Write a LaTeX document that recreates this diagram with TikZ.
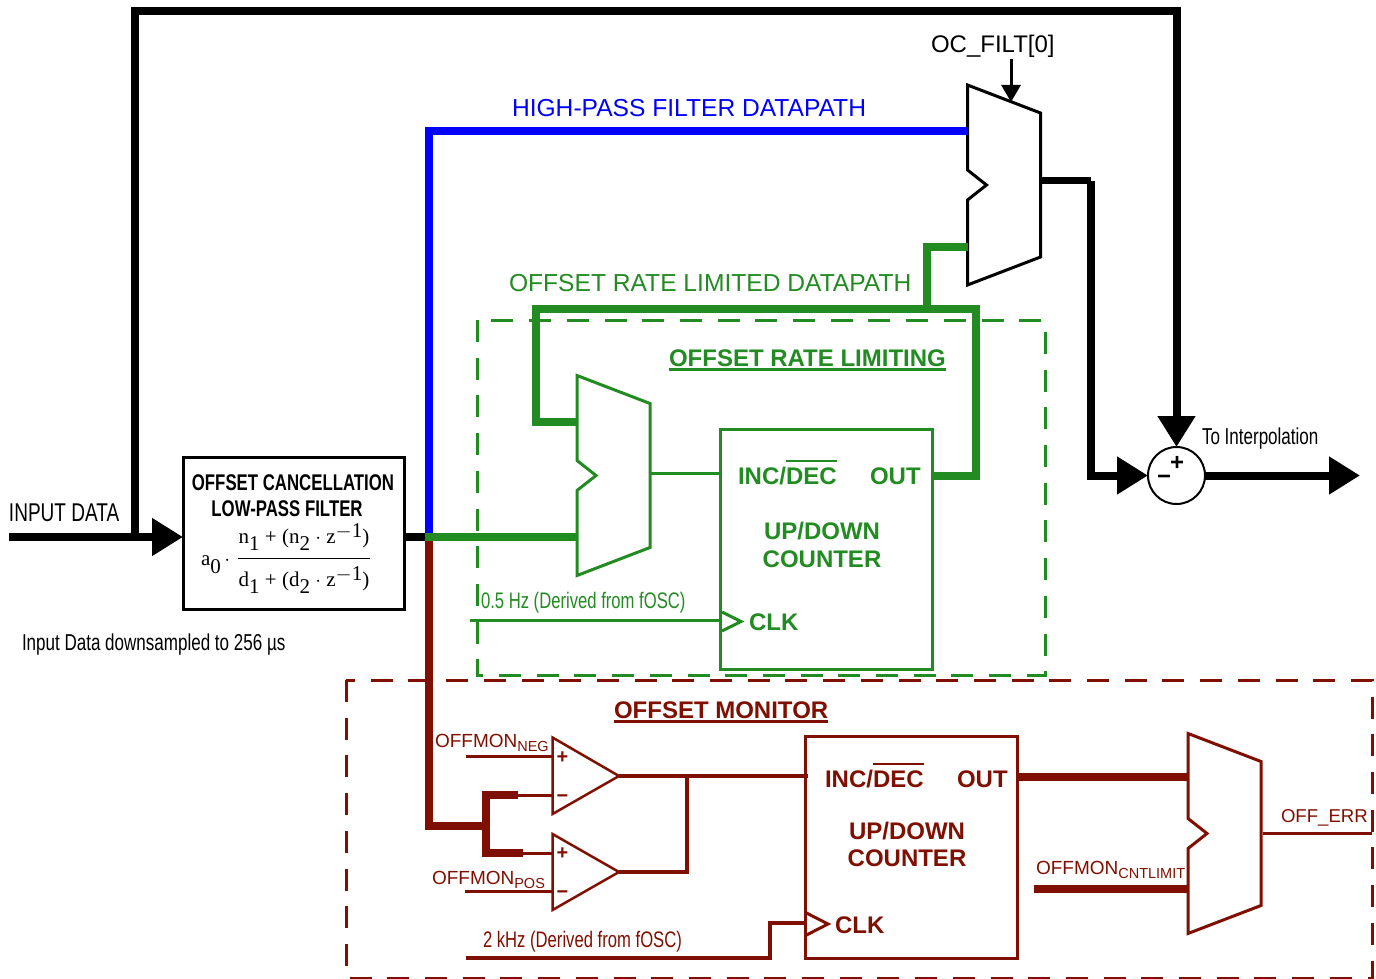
\documentclass[tikz,border=0pt]{standalone}
\usepackage{fontspec}
\setmainfont{Liberation Sans}
\newfontfamily\narrowfont[FakeStretch=0.74]{Liberation Sans}
\newfontfamily\timesfont{Liberation Serif}
\usetikzlibrary{arrows.meta}

\definecolor{monred}{HTML}{7F0F00}
\definecolor{rategreen}{HTML}{228B22}

\newcommand\fsize[1]{\fontsize{#1}{#1}\selectfont}
\newcommand\barred[1]{\vbox{\hrule height 2.5pt\kern 5pt\hbox{#1}}}
\newcommand\ruled[1]{\vtop{\hbox{#1}\kern 2pt\hrule height 3pt}}
\newcommand\lowered[1]{\raisebox{-7pt}[0pt][0pt]{#1}}
\newcommand\raised[1]{\raisebox{6pt}[0pt][0pt]{#1}}
\newcommand\drawmux[4][]{%
  \draw [#1] (#3,#4) -- ++(73,28) -- ++(0,144) -- ++(-73,28) -- ++(0,-85)
    -- ++(19,-15) -- ++(-19,-15) -- cycle;
  \coordinate (#2-tl) at (#3,#4);
  \coordinate (#2-tr) at ({#3+73},#4);
}

\tikzset{
  txt/.style={anchor=base west,inner sep=0pt,outer sep=0pt},
  ctr/.style={anchor=base,inner sep=0pt,outer sep=0pt},
  bigarrow/.style={-{Triangle[length=31pt,width=36pt]}},
  thickbus/.style={line width=8pt},
  thin line/.style={line width=3pt},
  ratedash/.style={rategreen,line width=3pt,dash pattern=on 22pt off 15.7pt},
  mondash/.style={monred,line width=3pt,dash pattern=on 22pt off 15.7pt},
  labfont/.style={font=\fsize{24.6}},
  boldfont/.style={font=\fsize{24}\bfseries},
  narrow/.style={font=\narrowfont\fsize{22.5}},
  blockbox/.style={draw,line width=3pt,inner sep=0pt,outer sep=0pt},
}

\begin{document}
\begin{tikzpicture}[x=1pt,y=-1pt]
  \useasboundingbox (0,0) rectangle (1376,979);

  % dashed regions
  \draw [ratedash] (477,320) rectangle (1045,675);
  \draw [mondash] (346,680) rectangle (1372,978);

  % blocks
  \node (filter) [blockbox,minimum width=221pt,minimum height=152pt] at (293.5,533) {};
  \node (ratectr) [blockbox,rategreen,minimum width=212pt,minimum height=240pt] at (826,549.5) {};
  \node (monctr) [blockbox,monred,minimum width=212pt,minimum height=222pt] at (911.5,847) {};
  \node (sum) [circle,draw,line width=2pt,inner sep=0pt,outer sep=0pt,minimum size=57pt] at (1176.5,475.5) {};
  \drawmux[line width=3pt]{topmux}{967.5}{85}
  \drawmux[rategreen,line width=3pt]{ratemux}{577}{375.5}
  \drawmux[monred,line width=3pt]{monmux}{1188}{733.5}

  % black datapath
  \coordinate (inputstart) at (9,537);
  \coordinate (looptap) at (135,537);
  \coordinate (looptop) at (1176.5,11);
  \coordinate (splitpt) at (429,537);
  \coordinate (greenstart) at (425,537);
  \coordinate (muxcorner) at (1091,180.5);
  \coordinate (outend) at (1360,475.5);
  \coordinate (filtsel) at (1011,59);
  \coordinate (filtselend) at (1011,102);
  \draw [thickbus] (looptap) |- (looptop) [bigarrow] -- (sum.north);
  \draw [thickbus,bigarrow] (inputstart) -- (filter.west |- inputstart);
  \draw [thickbus] (filter.east |- splitpt) -- (greenstart);
  \draw [line width=7.5pt] (muxcorner -| topmux-tr) -- (muxcorner);
  \draw [thickbus,bigarrow] (muxcorner) |- (sum.west);
  \draw [thickbus,bigarrow] (sum.east) -- (outend);
  \draw [line width=3pt,-{Triangle[length=17pt,width=19pt]}] (filtsel) -- (filtselend);

  % high-pass path
  \coordinate (hpcorner) at (429,131);
  \draw [blue,thickbus] (splitpt) -- (hpcorner) -- (hpcorner -| topmux-tl);

  % offset monitor
  \coordinate (monbranch) at (429,826);
  \coordinate (monfork) at (486,826);
  \coordinate (forkneg) at (518,795);
  \coordinate (forkpos) at (523,853);
  \coordinate (cmpain) at (552.5,795);
  \coordinate (cmpbin) at (552.5,853);
  \coordinate (cmpaout) at (619,776);
  \coordinate (cmpbout) at (619,872);
  \coordinate (monjoin) at (687,776);
  \coordinate (negstart) at (466,756);
  \coordinate (posstart) at (465,891);
  \coordinate (clkstart) at (466,958);
  \coordinate (clkbend) at (770,923);
  \coordinate (monout) at (1018,777);
  \coordinate (cntstart) at (1034,889);
  \coordinate (errout) at (1372,833);
  \begin{scope}[monred]
    \draw [thickbus] (splitpt) -- (monbranch) -- (monfork);
    \draw [thickbus,line cap=rect] (forkneg -| monfork) -- (forkpos -| monfork);
    \draw [thickbus] (monfork |- forkneg) -- (forkneg);
    \draw [thickbus] (monfork |- forkpos) -- (forkpos);
    \draw [thin line] (forkneg) -- (cmpain);
    \draw [thin line] (forkpos) -- (cmpbin);
    \draw [thin line] (negstart) -- (negstart -| cmpain);
    \draw [thin line] (posstart) -- (posstart -| cmpbin);
    \draw [line width=2.5pt] (552.5,737.5) -- (cmpaout) -- (552.5,814) -- cycle;
    \draw [line width=2.5pt] (552.5,834) -- (cmpbout) -- (552.5,910) -- cycle;
    \draw [line width=3.5pt] (cmpaout) -- (808,776);
    \draw [line width=3.5pt] (cmpbout) -| (monjoin);
    \draw [line width=3.5pt] (clkstart) -| (clkbend) -- (monctr.west |- clkbend);
    \draw [line width=3pt] (806.5,913) -- (828,924) -- (806.5,935);
    \draw [thickbus] (monout) -- (monout -| monmux-tl);
    \draw [thickbus] (cntstart) -- (cntstart -| monmux-tl);
    \draw [line width=3pt] (1263,833) -- (errout);
  \end{scope}

  % offset rate limiting
  \coordinate (ratetap) at (927,309);
  \coordinate (rateleft) at (536,309);
  \coordinate (rateright) at (975.5,309);
  \coordinate (ratefeed) at (536,422);
  \coordinate (rateout) at (975.5,476);
  \coordinate (topmuxin) at (927,247);
  \coordinate (clkfrom) at (470,620);
  \coordinate (rateinc) at (722,473);
  \begin{scope}[rategreen]
    \draw [line width=7.5pt] (greenstart) -- (greenstart -| ratemux-tl);
    \draw [thickbus] (topmuxin -| topmux-tl) -- (topmuxin) -- (ratetap);
    \draw [thickbus] (ratectr.east |- rateout) -- (rateout) -- (rateright)
      -- (rateleft) -- (ratefeed) -- (ratefeed -| ratemux-tl);
    \draw [line width=3pt] (rateinc -| ratemux-tr) -- (rateinc);
    \draw [line width=3pt] (clkfrom) -- (clkfrom -| ratectr.west);
    \draw [line width=3pt] (722,612) -- (741,621.5) -- (722,631);
  \end{scope}

  % black labels
  \node (inputlab) [txt,font=\narrowfont\fsize{25.7}] at (9,521.5) {INPUT DATA};
  \node (filtline1) [ctr,font=\narrowfont\fsize{22.7}\bfseries] at (293,490) {OFFSET CANCELLATION};
  \node (filtline2) [ctr,font=\narrowfont\fsize{22.7}\bfseries] at (287,516) {LOW-PASS FILTER};
  \node (coefflab) [txt,font=\timesfont\fsize{21}] at (201,565) {a\raisebox{-8pt}[0pt][0pt]{0}\,$\cdot$};
  \node (fracnum) [ctr,font=\timesfont\fsize{21}] at (304,543) {n\lowered{1} + (n\lowered{2} $\cdot$ z\raised{$-$1})};
  \node (fracden) [ctr,font=\timesfont\fsize{21}] at (304,586) {d\lowered{1} + (d\lowered{2} $\cdot$ z\raised{$-$1})};
  \coordinate (fracleft) at (238,558);
  \coordinate (fracright) at (370,558);
  \draw [line width=1pt] (fracleft) -- (fracright);
  \node (downlab) [txt,font=\narrowfont\fsize{23}] at (22,650) {Input Data downsampled to 256 µs};
  \node (interplab) [txt,font=\narrowfont\fsize{23}] at (1202,444) {To Interpolation};
  \node (filtsellab) [txt,font=\fsize{24}] at (931,52.5) {OC\_FILT[0]};
  \node (sumplus) [ctr,font=\fsize{24}\bfseries] at (1177,470) {+};
  \node (summinus) [ctr,font=\fsize{24}\bfseries] at (1164,484) {\textminus};

  % blue label
  \node (hplab) [txt,labfont,blue] at (512,116.5) {HIGH-PASS FILTER DATAPATH};

  % green labels
  \node (ratepathlab) [txt,labfont,rategreen] at (509,291.5) {OFFSET RATE LIMITED DATAPATH};
  \node (ratetitle) [txt,boldfont,rategreen] at (669,366) {\ruled{OFFSET RATE LIMITING}};
  \node (rateinclab) [txt,boldfont,rategreen] at (738,484) {INC/\barred{DEC}};
  \node (rateoutlab) [txt,boldfont,rategreen] at (870,484) {OUT};
  \node (rateupdown) [ctr,boldfont,rategreen] at (822,539) {UP/DOWN};
  \node (ratecounter) [ctr,boldfont,rategreen] at (822,567) {COUNTER};
  \node (rateclklab) [txt,boldfont,rategreen] at (749,630) {CLK};
  \node (rateclkfreq) [txt,narrow,rategreen] at (481,608) {0.5 Hz (Derived from fOSC)};

  % red labels
  \node (montitle) [txt,boldfont,monred] at (614,718) {\ruled{OFFSET MONITOR}};
  \node (moninclab) [txt,boldfont,monred] at (825,787) {INC/\barred{DEC}};
  \node (monoutlab) [txt,boldfont,monred] at (957,787) {OUT};
  \node (monupdown) [ctr,boldfont,monred] at (907,839) {UP/DOWN};
  \node (moncounter) [ctr,boldfont,monred] at (907,866) {COUNTER};
  \node (monclklab) [txt,boldfont,monred] at (835,933) {CLK};
  \node (monclkfreq) [txt,narrow,monred] at (483,947) {2 kHz (Derived from fOSC)};
  \node (negplus) [ctr,font=\fsize{20}\bfseries,monred] at (562.5,763) {+};
  \node (negminus) [ctr,font=\fsize{20}\bfseries,monred] at (562.5,802) {\textminus};
  \node (posplus) [ctr,font=\fsize{20}\bfseries,monred] at (562.5,859) {+};
  \node (posminus) [ctr,font=\fsize{20}\bfseries,monred] at (562.5,898) {\textminus};
  \node (neglab) [txt,font=\fsize{19},monred] at (435,747) {OFFMON\raisebox{-4pt}{\fsize{14.5}NEG}};
  \node (poslab) [txt,font=\fsize{19},monred] at (432,884) {OFFMON\raisebox{-4pt}{\fsize{14.5}POS}};
  \node (cntlab) [txt,font=\fsize{19},monred] at (1036,874) {OFFMON\raisebox{-4pt}{\fsize{14.5}CNTLIMIT}};
  \node (errlab) [txt,font=\fsize{18.6},monred] at (1281,822) {OFF\_ERR};
\end{tikzpicture}
\end{document}
